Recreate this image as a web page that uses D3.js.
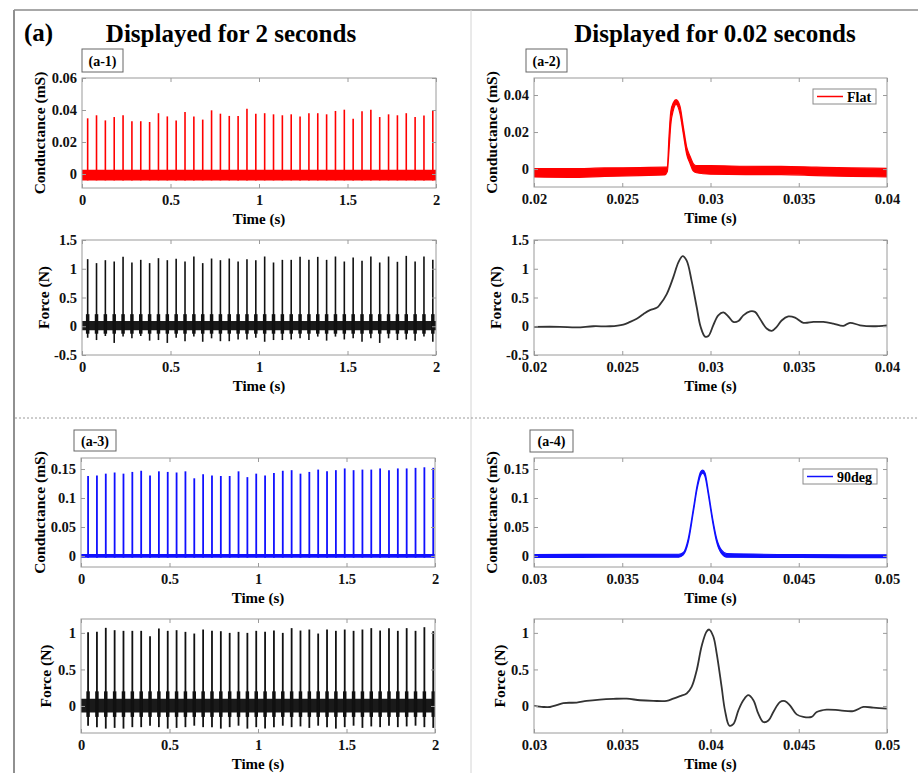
<!DOCTYPE html>
<html>
<head>
<meta charset="utf-8">
<script src="https://cdn.jsdelivr.net/npm/d3@7"></script>
<style>
body { margin: 0; background: #fff; }
svg { font-family: "Liberation Serif", "Times New Roman", serif; font-weight: bold; }
</style>
</head>
<body>
<svg id="fig" width="918" height="773"></svg>
<script>
// ---- data ----

// (a-1) flat, 2 s window: spike times and heights
var pulseTimes1 = [0.032, 0.082, 0.132, 0.182, 0.232, 0.282, 0.332, 0.382, 0.432, 0.482,
    0.532, 0.582, 0.632, 0.682, 0.732, 0.782, 0.832, 0.882, 0.932, 0.982,
    1.032, 1.082, 1.132, 1.182, 1.232, 1.282, 1.332, 1.382, 1.432, 1.482,
    1.532, 1.582, 1.632, 1.682, 1.732, 1.782, 1.832, 1.882, 1.932, 1.982];
var condPeaks1 = [0.0348, 0.0367, 0.0335, 0.0356, 0.0367, 0.033, 0.033, 0.0325, 0.038, 0.036,
    0.0335, 0.0388, 0.036, 0.034, 0.0398, 0.0377, 0.0363, 0.0363, 0.0408, 0.0377,
    0.038, 0.0373, 0.0367, 0.0373, 0.036, 0.038, 0.038, 0.0373, 0.0394, 0.0402,
    0.0346, 0.0392, 0.0402, 0.0356, 0.0373, 0.0367, 0.038, 0.0356, 0.0365, 0.0398];
var forcePeaks1 = [1.167, 1.098, 1.149, 1.126, 1.207, 1.109, 1.155, 1.098, 1.184, 1.149,
    1.172, 1.126, 1.213, 1.098, 1.178, 1.149, 1.178, 1.126, 1.167, 1.149,
    1.213, 1.109, 1.155, 1.155, 1.207, 1.155, 1.207, 1.155, 1.213, 1.126,
    1.195, 1.138, 1.213, 1.109, 1.213, 1.121, 1.224, 1.126, 1.213, 1.155];
var forceTroughs1 = [-0.20, -0.24, -0.17, -0.29, -0.18, -0.21, -0.17, -0.25, -0.24, -0.29,
    -0.20, -0.26, -0.18, -0.27, -0.21, -0.26, -0.26, -0.23, -0.23, -0.20,
    -0.27, -0.24, -0.24, -0.23, -0.21, -0.24, -0.18, -0.25, -0.18, -0.23,
    -0.21, -0.27, -0.21, -0.29, -0.21, -0.24, -0.23, -0.25, -0.18, -0.27];

// (a-3) 90deg, 2 s window
var pulseTimes3 = [0.040, 0.090, 0.140, 0.190, 0.240, 0.290, 0.340, 0.390, 0.440, 0.490,
    0.540, 0.590, 0.640, 0.690, 0.740, 0.790, 0.840, 0.890, 0.940, 0.990,
    1.040, 1.090, 1.140, 1.190, 1.240, 1.290, 1.340, 1.390, 1.440, 1.490,
    1.540, 1.590, 1.640, 1.690, 1.740, 1.790, 1.840, 1.890, 1.940, 1.990];
var condPeaks3 = [0.138, 0.139, 0.142, 0.144, 0.142, 0.145, 0.147, 0.139, 0.146, 0.145,
    0.144, 0.146, 0.134, 0.141, 0.139, 0.138, 0.138, 0.146, 0.136, 0.142,
    0.139, 0.143, 0.147, 0.148, 0.142, 0.145, 0.149, 0.146, 0.148, 0.151,
    0.148, 0.149, 0.149, 0.151, 0.148, 0.151, 0.151, 0.152, 0.153, 0.152];
var forcePeaks3 = [1.009, 1.014, 1.069, 1.037, 1.028, 1.028, 1.028, 0.954, 1.06, 1.028,
    1.037, 1.014, 0.991, 1.046, 1.028, 1.023, 1.0, 1.014, 1.0, 1.028,
    1.014, 1.032, 1.0, 1.065, 1.032, 1.046, 0.991, 1.046, 1.028, 1.046,
    1.028, 1.046, 1.065, 1.032, 1.065, 1.028, 1.065, 1.028, 1.078, 1.023];
var forceTroughs3 = [-0.27, -0.29, -0.31, -0.30, -0.31, -0.29, -0.29, -0.27, -0.29, -0.31,
    -0.30, -0.29, -0.27, -0.29, -0.29, -0.31, -0.29, -0.27, -0.31, -0.29,
    -0.31, -0.29, -0.27, -0.29, -0.28, -0.30, -0.27, -0.29, -0.31, -0.29,
    -0.27, -0.30, -0.28, -0.29, -0.27, -0.29, -0.28, -0.27, -0.29, -0.30];

// baseline noise bands of the 2 s traces [low, high] over bandTime
var bandTime = [0, 2];
var condBand1 = [-0.004, 0.0027];
var condBand3 = [-0.003, 0.0035];
var forceBand1 = [-0.07, 0.09];
var forceBlob1 = [-0.13, 0.21];
var forceBand3 = [-0.09, 0.1];
var forceBlob3 = [-0.15, 0.2];

// (a-2) single pulse, conductance envelope (noise band)
var cond2Time = [0.0200, 0.0220, 0.0240, 0.0260, 0.0274, 0.02755, 0.02765, 0.02775, 0.02790, 0.02805,
    0.02827, 0.02846, 0.02865, 0.02884, 0.02902, 0.0292, 0.0300, 0.0320, 0.0340, 0.0360, 0.0380, 0.0400];
var cond2Lo = [-0.0043, -0.0045, -0.0040, -0.0035, -0.0032, -0.0015, 0.010, 0.024, 0.032, 0.035,
    0.030, 0.019, 0.008, 0.003, -0.001, -0.002, -0.0028, -0.0030, -0.0030, -0.0035, -0.0040, -0.0042];
var cond2Hi = [0.0003, 0.0002, 0.0006, 0.0008, 0.0010, 0.0010, 0.018, 0.031, 0.036, 0.0375,
    0.034, 0.023, 0.012, 0.007, 0.003, 0.0018, 0.0018, 0.0015, 0.0014, 0.0010, 0.0006, 0.0004];

// (a-2) single pulse, force
var force2Time = [0.02, 0.02147, 0.02242, 0.02336, 0.02431, 0.02506, 0.02544, 0.02582, 0.02619, 0.02657,
    0.02695, 0.02714, 0.02752, 0.02789, 0.02818, 0.02842, 0.02865, 0.02893, 0.02922, 0.02944,
    0.02969, 0.02988, 0.03016, 0.03044, 0.03073, 0.03101, 0.03129, 0.03158, 0.03186, 0.03224,
    0.03252, 0.03280, 0.03318, 0.03347, 0.03375, 0.03403, 0.03441, 0.03479, 0.03526, 0.03583,
    0.03639, 0.03696, 0.03753, 0.03790, 0.03847, 0.03922, 0.04];
var force2Val = [-0.01, -0.01, -0.02, 0, 0, 0.03, 0.075, 0.13, 0.21, 0.28,
    0.32, 0.38, 0.56, 0.85, 1.11, 1.22, 1.14, 0.79, 0.33, -0.01,
    -0.18, -0.17, 0.02, 0.19, 0.24, 0.17, 0.075, 0.09, 0.19, 0.26,
    0.25, 0.13, -0.04, -0.08, -0.01, 0.10, 0.17, 0.15, 0.06, 0.075,
    0.075, 0.046, 0.006, 0.06, 0.017, 0, 0.017];

// (a-4) single pulse, conductance envelope
var cond4Time = [0.0300, 0.0350, 0.0382, 0.03846, 0.03874, 0.03903, 0.03925, 0.03944, 0.03956, 0.03969,
    0.03988, 0.04012, 0.04035, 0.04063, 0.04092, 0.0450, 0.0500];
var cond4Lo = [-0.0025, -0.0022, -0.002, 0.002, 0.024, 0.076, 0.117, 0.139, 0.143, 0.137,
    0.105, 0.059, 0.024, 0.004, -0.002, -0.0025, -0.003];
var cond4Hi = [0.0025, 0.0028, 0.003, 0.006, 0.030, 0.082, 0.123, 0.145, 0.148, 0.143,
    0.111, 0.065, 0.030, 0.010, 0.004, 0.0025, 0.002];

// (a-4) single pulse, force
var force4Time = [0.03, 0.03053, 0.03091, 0.03128, 0.03166, 0.03242, 0.03298, 0.03374, 0.03449, 0.03525,
    0.03601, 0.03676, 0.03752, 0.03789, 0.03827, 0.03865, 0.03893, 0.03922, 0.0395, 0.03978,
    0.03993, 0.04016, 0.04035, 0.04063, 0.04082, 0.04107, 0.04129, 0.04158, 0.04186, 0.04214,
    0.04243, 0.04271, 0.04299, 0.04328, 0.04356, 0.04394, 0.04422, 0.0445, 0.04488, 0.04526,
    0.04573, 0.04602, 0.04658, 0.04734, 0.04809, 0.04866, 0.04922, 0.05];
var force4Val = [0, -0.014, -0.014, 0.01, 0.04, 0.046, 0.07, 0.088, 0.097, 0.10,
    0.078, 0.07, 0.07, 0.10, 0.134, 0.17, 0.26, 0.49, 0.82, 1.02,
    1.046, 0.95, 0.72, 0.26, -0.06, -0.27, -0.25, -0.06, 0.078, 0.147,
    0.078, -0.106, -0.22, -0.2, -0.083, 0.055, 0.065, 0.009, -0.115, -0.15,
    -0.15, -0.083, -0.05, -0.06, -0.07, -0.014, -0.023, -0.037];

// tick values
var ticksTime2s = [0, 0.5, 1, 1.5, 2];
var ticksTimeA2 = [0.02, 0.025, 0.03, 0.035, 0.04];
var ticksTimeA4 = [0.03, 0.035, 0.04, 0.045, 0.05];
var ticksCond1 = [0, 0.02, 0.04, 0.06];
var ticksCond2 = [0, 0.02, 0.04];
var ticksCond3 = [0, 0.05, 0.1, 0.15];
var ticksForce1 = [-0.5, 0, 0.5, 1, 1.5];
var ticksForce3 = [0, 0.5, 1];

// ---- drawing ----
var svg = d3.select("#fig");
var clipN = 0;
var RED = "#ff0000", BLUE = "#1010ff";

function fmt(d) { return String(+d.toFixed(4)); }

// frame and separators
svg.append("line").attr("x1", 14).attr("x2", 918).attr("y1", 10).attr("y2", 10)
    .attr("stroke", "#a8a8a8").attr("stroke-width", 2);
svg.append("line").attr("x1", 14).attr("x2", 14).attr("y1", 10).attr("y2", 773)
    .attr("stroke", "#909090").attr("stroke-width", 2);
svg.append("line").attr("x1", 471).attr("x2", 471).attr("y1", 10).attr("y2", 773)
    .attr("stroke", "#d4d4d4").attr("stroke-width", 1);
svg.append("line").attr("x1", 15).attr("x2", 918).attr("y1", 418).attr("y2", 418)
    .attr("stroke", "#9a9a9a").attr("stroke-width", 1).attr("stroke-dasharray", "2,2");

svg.append("text").attr("x", 24).attr("y", 41).style("font-size", "25px").text("(a)");
svg.append("text").attr("x", 231).attr("y", 42).attr("text-anchor", "middle")
    .style("font-size", "25px").text("Displayed for 2 seconds");
svg.append("text").attr("x", 715).attr("y", 42).attr("text-anchor", "middle")
    .style("font-size", "25px").text("Displayed for 0.02 seconds");

function panel(o) {
    var x = d3.scaleLinear().domain(o.xDomain).range([o.left, o.right]);
    var y = d3.scaleLinear().domain(o.yDomain).range([o.bottom, o.top]);
    var g = svg.append("g");
    var id = "clip" + (clipN++);
    svg.append("clipPath").attr("id", id).append("rect")
        .attr("x", o.left).attr("y", o.top)
        .attr("width", o.right - o.left).attr("height", o.bottom - o.top);

    var plot = g.append("g").attr("clip-path", "url(#" + id + ")");

    function style(sel) {
        sel.select(".domain").remove();
        sel.selectAll(".tick line").attr("stroke", "#9a9a9a");
        sel.selectAll("text").attr("fill", "#111")
            .style("font-size", "14.5px").style("font-weight", "bold")
            .style("font-family", "'Liberation Serif', 'Times New Roman', serif");
    }
    g.append("g").attr("transform", "translate(0," + o.bottom + ")")
        .call(d3.axisBottom(x).tickValues(o.xTicks).tickFormat(fmt).tickSizeInner(-4).tickSizeOuter(0).tickPadding(7))
        .call(style);
    g.append("g").attr("transform", "translate(0," + o.top + ")")
        .call(d3.axisTop(x).tickValues(o.xTicks).tickFormat("").tickSizeInner(-4).tickSizeOuter(0))
        .call(style);
    g.append("g").attr("transform", "translate(" + o.left + ",0)")
        .call(d3.axisLeft(y).tickValues(o.yTicks).tickFormat(fmt).tickSizeInner(-4).tickSizeOuter(0).tickPadding(5))
        .call(style);
    g.append("g").attr("transform", "translate(" + o.right + ",0)")
        .call(d3.axisRight(y).tickValues(o.yTicks).tickFormat("").tickSizeInner(-4).tickSizeOuter(0))
        .call(style);

    g.append("rect").attr("x", o.left).attr("y", o.top)
        .attr("width", o.right - o.left).attr("height", o.bottom - o.top)
        .attr("fill", "none").attr("stroke", "#9a9a9a").attr("stroke-width", 1);

    g.append("text").attr("x", (o.left + o.right) / 2).attr("y", o.bottom + 36)
        .attr("text-anchor", "middle").style("font-size", "15px").text("Time (s)");
    g.append("text")
        .attr("transform", "translate(" + o.yLabelX + "," + (o.top + o.bottom) / 2 + ") rotate(-90)")
        .attr("text-anchor", "middle").style("font-size", "15.5px").text(o.yLabel);

    if (o.tag) {
        g.append("rect").attr("x", o.tag[0]).attr("y", o.tag[1]).attr("width", o.tag[2]).attr("height", o.tag[3])
            .attr("fill", "#fff").attr("stroke", "#666").attr("stroke-width", 1);
        g.append("text").attr("x", o.tag[0] + o.tag[2] / 2).attr("y", o.tag[1] + o.tag[3] / 2 + 5)
            .attr("text-anchor", "middle").style("font-size", "14px").text(o.tagText);
    }
    return { x: x, y: y, plot: plot, g: g };
}

function drawBand(p, band, color) {
    p.plot.append("path").datum(bandTime)
        .attr("d", d3.area().x(function(t) { return p.x(t); })
            .y0(function() { return p.y(band[0]); }).y1(function() { return p.y(band[1]); }))
        .attr("fill", color);
}

function drawSpikes(p, times, tops, bottoms, color, w) {
    p.plot.append("g").selectAll("line")
        .data(d3.zip(times, tops, bottoms))
        .join("line")
        .attr("x1", function(d) { return p.x(d[0]); })
        .attr("x2", function(d) { return p.x(d[0]); })
        .attr("y1", function(d) { return p.y(d[1]); })
        .attr("y2", function(d) { return p.y(d[2]); })
        .attr("stroke", color).attr("stroke-width", w);
}

function drawEnvelope(p, times, lo, hi, color) {
    p.plot.append("path").datum(d3.zip(times, lo, hi))
        .attr("d", d3.area().curve(d3.curveMonotoneX)
            .x(function(d) { return p.x(d[0]); })
            .y0(function(d) { return p.y(d[1]); })
            .y1(function(d) { return p.y(d[2]); }))
        .attr("fill", color).attr("stroke", color).attr("stroke-width", 1.2);
}

function drawLine(p, times, vals, color) {
    p.plot.append("path").datum(d3.zip(times, vals))
        .attr("d", d3.line().curve(d3.curveCatmullRom)
            .x(function(d) { return p.x(d[0]); })
            .y(function(d) { return p.y(d[1]); }))
        .attr("fill", "none").attr("stroke", color).attr("stroke-width", 1.8);
}

function legend(p, box, label, color) {
    p.g.append("rect").attr("x", box[0]).attr("y", box[1]).attr("width", box[2]).attr("height", box[3])
        .attr("fill", "#fff").attr("stroke", "#8a8a8a");
    p.g.append("line").attr("x1", box[0] + 4).attr("x2", box[0] + 30)
        .attr("y1", box[1] + box[3] / 2).attr("y2", box[1] + box[3] / 2)
        .attr("stroke", color).attr("stroke-width", 1.5);
    p.g.append("text").attr("x", box[0] + 34).attr("y", box[1] + box[3] / 2 + 5)
        .style("font-size", "14px").text(label);
}

function constant(times, v) { return times.map(function() { return v; }); }

// (a-1) conductance, 2 s
var p1 = panel({ left: 82, right: 436, top: 78, bottom: 188, xDomain: [0, 2], yDomain: [-0.00875, 0.06],
    xTicks: ticksTime2s, yTicks: ticksCond1, yLabel: "Conductance (mS)", yLabelX: 45,
    tag: [82, 49, 41, 23], tagText: "(a-1)" });
drawBand(p1, condBand1, RED);
drawSpikes(p1, pulseTimes1, condPeaks1, constant(pulseTimes1, condBand1[0]), RED, 1.6);

// (a-1) force, 2 s
var p1f = panel({ left: 82, right: 436, top: 240, bottom: 355, xDomain: [0, 2], yDomain: [-0.5, 1.5],
    xTicks: ticksTime2s, yTicks: ticksForce1, yLabel: "Force (N)", yLabelX: 49 });
drawBand(p1f, forceBand1, "#1a1a1a");
drawSpikes(p1f, pulseTimes1, constant(pulseTimes1, forceBlob1[1]), constant(pulseTimes1, forceBlob1[0]), "#111", 3.5);
drawSpikes(p1f, pulseTimes1, forcePeaks1, forceTroughs1, "#111", 1.6);

// (a-2) conductance, 0.02 s
var p2 = panel({ left: 534, right: 887, top: 78, bottom: 187, xDomain: [0.02, 0.04], yDomain: [-0.0097, 0.0492],
    xTicks: ticksTimeA2, yTicks: ticksCond2, yLabel: "Conductance (mS)", yLabelX: 497,
    tag: [526, 49, 41, 23], tagText: "(a-2)" });
drawEnvelope(p2, cond2Time, cond2Lo, cond2Hi, RED);
legend(p2, [813, 89, 63, 15], "Flat", RED);

// (a-2) force, 0.02 s
var p2f = panel({ left: 534, right: 887, top: 240, bottom: 355, xDomain: [0.02, 0.04], yDomain: [-0.5, 1.5],
    xTicks: ticksTimeA2, yTicks: ticksForce1, yLabel: "Force (N)", yLabelX: 501 });
drawLine(p2f, force2Time, force2Val, "#333");

// (a-3) conductance, 2 s
var p3 = panel({ left: 81, right: 435, top: 458, bottom: 567, xDomain: [0, 2], yDomain: [-0.019, 0.169],
    xTicks: ticksTime2s, yTicks: ticksCond3, yLabel: "Conductance (mS)", yLabelX: 45,
    tag: [74, 430, 42, 21], tagText: "(a-3)" });
drawBand(p3, condBand3, BLUE);
drawSpikes(p3, pulseTimes3, condPeaks3, constant(pulseTimes3, condBand3[0]), BLUE, 1.8);

// (a-3) force, 2 s
var p3f = panel({ left: 81, right: 435, top: 619, bottom: 733, xDomain: [0, 2], yDomain: [-0.37, 1.19],
    xTicks: ticksTime2s, yTicks: ticksForce3, yLabel: "Force (N)", yLabelX: 51 });
drawBand(p3f, forceBand3, "#1a1a1a");
drawSpikes(p3f, pulseTimes3, constant(pulseTimes3, forceBlob3[1]), constant(pulseTimes3, forceBlob3[0]), "#111", 3.5);
drawSpikes(p3f, pulseTimes3, forcePeaks3, forceTroughs3, "#111", 1.8);

// (a-4) conductance, 0.02 s
var p4 = panel({ left: 534, right: 887, top: 458, bottom: 567, xDomain: [0.03, 0.05], yDomain: [-0.019, 0.169],
    xTicks: ticksTimeA4, yTicks: ticksCond3, yLabel: "Conductance (mS)", yLabelX: 497,
    tag: [530, 430, 43, 22], tagText: "(a-4)" });
drawEnvelope(p4, cond4Time, cond4Lo, cond4Hi, BLUE);
legend(p4, [803, 469, 74, 15], "90deg", BLUE);

// (a-4) force, 0.02 s
var p4f = panel({ left: 534, right: 887, top: 619, bottom: 733, xDomain: [0.03, 0.05], yDomain: [-0.37, 1.19],
    xTicks: ticksTimeA4, yTicks: ticksForce3, yLabel: "Force (N)", yLabelX: 505 });
drawLine(p4f, force4Time, force4Val, "#333");
</script>
</body>
</html>
